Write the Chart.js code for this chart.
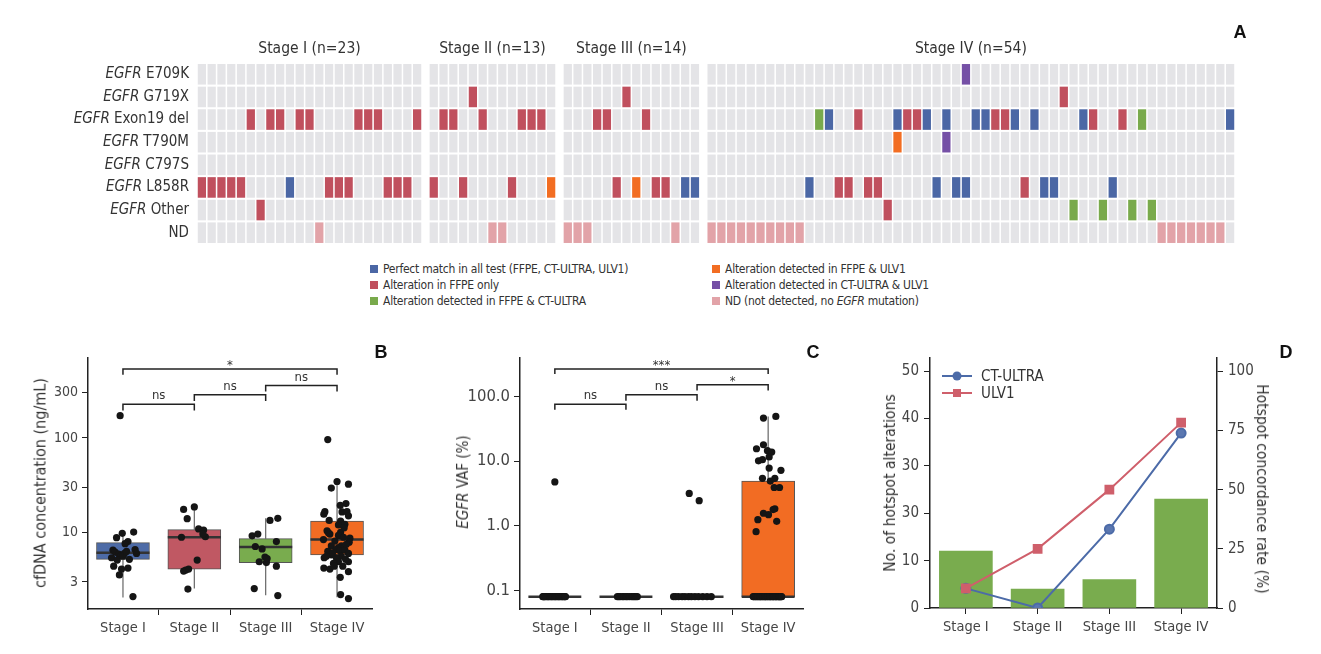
<!DOCTYPE html>
<html>
<head>
<meta charset="utf-8">
<script src="https://cdn.jsdelivr.net/npm/chart.js@4.4.1/dist/chart.umd.min.js"></script>
<style>
    body { margin: 0; width: 1321px; height: 654px; overflow: hidden; position: relative; background: #fff;
           font-family: "Liberation Sans Narrow", "DejaVu Sans Condensed", sans-serif; color: #333; }
    canvas { position: absolute; }
    .panel { position: absolute; transform: translate(-50%, -50%); font: bold 18px "Liberation Sans", Arial, sans-serif; color: #111; }
    .leg { position: absolute; font-size: 12px; letter-spacing: -0.25px; white-space: nowrap; transform: translateY(-50%); }
    .leg .sq { display: inline-block; width: 8px; height: 8px; margin-right: 5px; vertical-align: 0; }
    .ytitle { position: absolute; white-space: nowrap; font-size: 15.5px; color: #333; transform: translate(-50%, -50%) rotate(-90deg); }
    .ytitle.right { transform: translate(-50%, -50%) rotate(90deg); }
</style>
</head>
<body>
<canvas id="heat" width="1321" height="256" style="left:0;top:0"></canvas>
<canvas id="cfdna" width="430" height="324" style="left:0;top:330px"></canvas>
<canvas id="vaf" width="400" height="324" style="left:440px;top:330px"></canvas>
<canvas id="hotspot" width="451" height="324" style="left:870px;top:330px"></canvas>

<div class="panel" style="left:1240px;top:32px">A</div>
<div class="panel" style="left:381px;top:352px">B</div>
<div class="panel" style="left:813px;top:352px">C</div>
<div class="panel" style="left:1286px;top:352px">D</div>

<div class="ytitle" style="left:40px;top:483px;font-size:16px">cfDNA concentration (ng/mL)</div>
<div class="ytitle" style="left:463px;top:482px;font-size:15px"><i>EGFR</i> VAF (%)</div>
<div class="ytitle" style="left:890px;top:483px">No. of hotspot alterations</div>
<div class="ytitle right" style="left:1262px;top:489px">Hotspot concordance rate (%)</div>

<div id="legend"></div>

<script>
const FONT = '"Liberation Sans Narrow", "DejaVu Sans Condensed", sans-serif';
Chart.defaults.font.family = FONT;
Chart.defaults.color = '#444';
Chart.defaults.animation = false;
Chart.defaults.plugins.legend.display = false;
Chart.defaults.plugins.tooltip.enabled = false;

/** DATA */

const stageLabels = ['Stage I', 'Stage II', 'Stage III', 'Stage IV'];
const stageTitles = ['Stage I (n=23)', 'Stage II (n=13)', 'Stage III (n=14)', 'Stage IV (n=54)'];
const stageSizes = [23, 13, 14, 54];

// heatmap rows, one string of marked patients per stage
// b perfect match, r FFPE only, g FFPE & CT-ULTRA, o FFPE & ULV1, p CT-ULTRA & ULV1, n not detected
const mutationRows = ['E709K', 'G719X', 'Exon19 del', 'T790M', 'C797S', 'L858R', 'Other', 'ND'];
const rowE709K = ['', '', '', 'p26'];
const rowG719X = ['', 'r4', 'r6', 'r36'];
const rowExon19 = ['r5 r7 r8 r10 r11 r16 r17 r18 r22', 'r1 r2 r5 r9 r10 r11', 'r3 r4 r8',
    'g11 b12 r15 b19 r20 r21 b22 b24 b27 b28 r29 r30 b31 b33 b38 r39 r42 g44 b53'];
const rowT790M = ['', '', '', 'o19 p24'];
const rowC797S = ['', '', '', ''];
const rowL858R = ['r0 r1 r2 r3 r4 b9 r13 r14 r15 r19 r20 r21', 'r0 r3 r8 o12', 'r5 o7 r9 r10 b12 b13',
    'b10 r13 r14 r16 r17 b23 b25 b26 r32 b34 b35 b41'];
const rowOther = ['r6', '', '', 'r18 g37 g40 g43 g45'];
const rowND = ['n12', 'n6 n7', 'n0 n1 n2 n11', 'n0 n1 n2 n3 n4 n5 n6 n7 n8 n9 n46 n47 n48 n49 n50 n51 n52'];
const heatRows = [rowE709K, rowG719X, rowExon19, rowT790M, rowC797S, rowL858R, rowOther, rowND];

const cellColors = { '': '#E4E4E7', b: '#4B67A5', r: '#C0505E', g: '#79AA4C', o: '#F26D22', p: '#7550A6', n: '#E2A3A8' };
const legendItems = [
    ['b', 'Perfect match in all test (FFPE, CT-ULTRA, ULV1)'],
    ['r', 'Alteration in FFPE only'],
    ['g', 'Alteration detected in FFPE &amp; CT-ULTRA'],
    ['o', 'Alteration detected in FFPE &amp; ULV1'],
    ['p', 'Alteration detected in CT-ULTRA &amp; ULV1'],
    ['n', 'ND (not detected, no <i>EGFR</i> mutation)']
];

// B: cfDNA concentration (ng/mL)
const cfdnaTicks = [3, 10, 30, 100, 300];
const cfdnaStats = [ // q1, median, q3, lower whisker, upper whisker
    [5.2, 6.1, 7.8, 2.05, 10.1],
    [4.1, 8.9, 10.7, 2.56, 18.6],
    [4.8, 7.0, 8.6, 2.16, 14.1],
    [5.77, 8.4, 13.2, 2.06, 34.6]
];
const cfdnaStageI = [172, 8.8, 9.8, 10.1, 8.0, 7.6, 6.5, 6.2, 5.9, 5.7, 6.0, 6.6, 6.0, 5.4, 5.2, 5.1, 5.6, 4.4, 4.1, 4.2, 3.55, 2.1, 6.3];
const cfdnaJitterI = [-0.04, -0.09, -0.01, 0.15, 0.07, 0.03, -0.14, -0.11, -0.06, -0.03, 0.02, 0.17, 0.19, -0.16, 0.09, -0.08, 0.0, -0.13, -0.02, 0.07, -0.05, 0.14, 0.05];
const cfdnaStageII = [17.5, 18.6, 14.0, 8.9, 10.9, 10.6, 9.0, 9.6, 5.1, 3.9, 4.0, 4.1, 2.52];
const cfdnaJitterII = [-0.15, 0.0, -0.10, -0.18, 0.06, 0.13, 0.155, 0.12, 0.04, -0.15, -0.12, -0.08, -0.09];
const cfdnaStageIII = [13.4, 14.1, 9.2, 9.6, 8.0, 7.1, 6.7, 5.5, 4.9, 4.8, 4.4, 2.55, 2.15, 5.3];
const cfdnaJitterIII = [0.06, 0.17, -0.19, -0.11, 0.15, -0.145, -0.05, -0.01, -0.09, 0.01, 0.15, -0.16, 0.17, 0.02];
const cfdnaStageIV = [96, 34.6, 29.5, 32.4, 19.3, 20.2, 16.6, 15.6, 16.5, 16.6, 15.0, 13.4, 13.2, 12.2, 12.0, 10.4, 9.6, 10.0,
    9.3, 8.7, 8.4, 8.1, 7.9, 7.2, 7.2, 6.9, 6.8, 6.6, 6.4, 6.5, 6.0, 6.3, 5.8, 5.6, 5.4, 5.4, 5.6, 4.9, 4.9, 4.7, 4.2, 4.1,
    4.4, 4.4, 3.85, 3.35, 2.2, 2.0, 11.2, 9.9, 7.5, 6.1, 5.2, 8.9];
const cfdnaJitterIV = [-0.13, 0.0, -0.08, 0.16, 0.045, 0.125, -0.17, -0.185, 0.07, 0.14, 0.16, -0.11, 0.05, 0.11, 0.02, -0.14,
    -0.10, 0.05, 0.02, 0.18, -0.19, -0.03, 0.17, -0.08, 0.06, 0.02, 0.09, -0.01, 0.04, 0.11, 0.16, -0.13, -0.08, 0.06, -0.01,
    -0.18, -0.15, 0.16, 0.02, -0.05, -0.185, -0.10, -0.04, 0.08, 0.16, 0.045, 0.05, 0.16, 0.10, -0.12, 0.13, -0.06, 0.12, 0.09];
const cfdnaBrackets = [[0, 1, 227, 195, 'ns'], [1, 2, 286, 246, 'ns'], [2, 3, 358, 309, 'ns'], [0, 3, 534, 465, '*']];

// C: EGFR VAF (%), not detected drawn at the 0.08 floor
const vafTicks = [0.1, 1, 10, 100];
const vafTickLabels = ['0.1', '1.0', '10.0', '100.0'];
const vafStats = [
    [0.08, 0.08, 0.08, 0.08, 0.08],
    [0.08, 0.08, 0.08, 0.08, 0.08],
    [0.08, 0.08, 0.08, 0.08, 0.08],
    [0.08, 0.08, 4.92, 0.08, 49]
];
const vafStageI = [4.75, 0.08, 0.08, 0.08, 0.08, 0.08, 0.08, 0.08, 0.08, 0.08, 0.08, 0.08, 0.08, 0.08, 0.08, 0.08, 0.08,
    0.08, 0.08, 0.08, 0.08, 0.08, 0.08];
const vafJitterI = [0.0, -0.17, -0.15, -0.14, -0.12, -0.1, -0.09, -0.07, -0.05, -0.04, -0.02, 0.0, 0.01, 0.03, 0.05, 0.06,
    0.08, 0.1, 0.11, 0.13, 0.14, 0.15, -0.16];
const vafStageII = [0.08, 0.08, 0.08, 0.08, 0.08, 0.08, 0.08, 0.08, 0.08, 0.08, 0.08, 0.08, 0.08];
const vafJitterII = [-0.12, -0.1, -0.08, -0.05, -0.03, 0.0, 0.02, 0.05, 0.08, 0.1, 0.12, 0.14, 0.16];
const vafStageIII = [3.16, 2.44, 0.08, 0.08, 0.08, 0.08, 0.08, 0.08, 0.08, 0.08, 0.08, 0.08, 0.08, 0.08];
const vafJitterIII = [-0.11, 0.03, -0.33, -0.3, -0.26, -0.21, -0.17, -0.12, -0.08, -0.03, 0.02, 0.08, 0.14, 0.2];
const vafStageIV = [46.3, 49, 15.5, 17.9, 14.5, 13.8, 11.6, 10.1, 10.5, 7.2, 7.8, 5.4, 5.4, 4.9, 3.9, 3.9, 1.83, 1.78, 1.48,
    1.56, 1.24, 1.17, 0.81,
    0.08, 0.08, 0.08, 0.08, 0.08, 0.08, 0.08, 0.08, 0.08, 0.08, 0.08, 0.08, 0.08, 0.08, 0.08, 0.08, 0.08, 0.08, 0.08, 0.08,
    0.08, 0.08, 0.08, 0.08, 0.08, 0.08, 0.08, 0.08, 0.08, 0.08, 0.08];
const vafJitterIV = [-0.066, 0.108, -0.164, -0.066, -0.01, 0.05, 0.014, -0.136, -0.08, 0.18, 0.014, -0.08, 0.094, 0.03, 0.085,
    0.16, 0.094, 0.07, 0.005, -0.066, -0.145, 0.12, -0.17,
    -0.21, -0.2, -0.18, -0.17, -0.15, -0.14, -0.12, -0.11, -0.1, -0.08, -0.07, -0.05, -0.04, -0.03, -0.01, 0.0, 0.02, 0.03,
    0.04, 0.06, 0.07, 0.08, 0.1, 0.11, 0.12, 0.14, 0.15, 0.16, 0.17, 0.18, 0.19];
const vafBrackets = [[0, 1, 76, 62, 'ns'], [1, 2, 106, 86, 'ns'], [2, 3, 152, 124, '*'], [0, 3, 265, 222, '***']];

// D: hotspot alterations and concordance
const hotspotCounts = [12, 4, 6, 23];
const countTicks = [0, 10, 20, 30, 40, 50];
const countTickLabels = ['0', '10', '30', '30', '40', '50'];
const rateTicks = [0, 25, 50, 75, 100];
const ctUltraRate = [8.3, 0, 33.3, 73.9];
const ulv1Rate = [8.3, 25, 50, 78.3];

const boxColors = ['#4D6BA7', '#C05863', '#79AC4E', '#F26C23'];

/** A: HEATMAP */

const stageGap = 0.7;
const stageStart = [];
let pos = 0;
stageSizes.forEach(n => { stageStart.push(pos); pos += n + stageGap; });

const heatDatasets = heatRows.map((row, r) => {
    const data = [];
    const colors = [];
    stageSizes.forEach((n, s) => {
        const marks = {};
        row[s].split(' ').filter(Boolean).forEach(m => { marks[+m.slice(1)] = m[0]; });
        for (let k = 0; k < n; k++) {
            data.push({ x: stageStart[s] + k, y: [r + 0.06, r + 0.94] });
            colors.push(cellColors[marks[k] || '']);
        }
    });
    return { data, backgroundColor: colors, barThickness: 7.6, grouped: false };
});

const heatText = {
    id: 'heatText',
    afterDraw(chart) {
        const { ctx, chartArea, scales: { x, y } } = chart;
        ctx.save();
        ctx.fillStyle = '#333';
        ctx.textBaseline = 'middle';
        ctx.textAlign = 'right';
        mutationRows.forEach((name, r) => {
            const py = y.getPixelForValue(r + 0.5);
            let px = chartArea.left - 8;
            const rest = name === 'ND' ? 'ND' : ' ' + name;
            ctx.font = `15px ${FONT}`;
            ctx.fillText(rest, px, py);
            if (name !== 'ND') {
                px -= ctx.measureText(rest).width;
                ctx.font = `italic 15px ${FONT}`;
                ctx.fillText('EGFR', px, py);
            }
        });
        ctx.textAlign = 'center';
        ctx.font = `15.5px ${FONT}`;
        stageTitles.forEach((t, s) => {
            const a = x.getPixelForValue(stageStart[s]);
            const b = x.getPixelForValue(stageStart[s] + stageSizes[s] - 1);
            ctx.fillText(t, (a + b) / 2, 49);
        });
        ctx.restore();
    }
};

new Chart(document.getElementById('heat'), {
    type: 'bar',
    data: { datasets: heatDatasets },
    options: {
        responsive: false,
        layout: { padding: { left: 197, right: 86, top: 63, bottom: 12 } },
        scales: {
            x: { type: 'linear', display: false, offset: false, min: -0.5, max: pos - stageGap - 0.5 },
            y: { type: 'linear', display: false, min: 0, max: 8, reverse: true }
        }
    },
    plugins: [heatText]
});

const legendRoot = document.getElementById('legend');
legendItems.forEach(([code, text], i) => {
    const div = document.createElement('div');
    div.className = 'leg';
    div.style.left = (i < 3 ? 370 : 712) + 'px';
    div.style.top = (269 + (i % 3) * 16) + 'px';
    div.innerHTML = `<span class="sq" style="background:${cellColors[code]}"></span>${text}`;
    legendRoot.appendChild(div);
});

/** B, C: BOX PLOTS */

const boxHalf = 0.372;

const boxDatasets = (stats, points, jitters, brackets) => {
    const boxes = [];
    const boxFill = [];
    const whiskers = [];
    const medians = [];
    stats.forEach(([q1, med, q3, lo, hi], i) => {
        if (q3 > q1) {
            boxes.push({ x: i, y: [q1, q3] });
            boxFill.push(boxColors[i]);
        }
        if (lo < q1) whiskers.push({ x: i, y: lo }, { x: i, y: q1 }, { x: i, y: null });
        if (hi > q3) whiskers.push({ x: i, y: q3 }, { x: i, y: hi }, { x: i, y: null });
        medians.push({ x: i - boxHalf, y: med }, { x: i + boxHalf, y: med }, { x: i, y: null });
    });
    const dots = [];
    points.forEach((vals, i) => vals.forEach((v, k) => dots.push({ x: i + jitters[i][k], y: v })));
    const lines = [];
    brackets.forEach(([a, b, top, leg]) => {
        lines.push({ x: a, y: leg }, { x: a, y: top }, { x: b, y: top }, { x: b, y: leg }, { x: b, y: null });
    });
    return [
        { data: dots, pointRadius: 3.6, pointBackgroundColor: '#151515', pointBorderWidth: 0, order: 0 },
        { data: lines, showLine: true, borderColor: '#222', borderWidth: 1.5, pointRadius: 0, order: 1 },
        { data: medians, showLine: true, borderColor: '#333', borderWidth: 2.5, pointRadius: 0, order: 2 },
        { type: 'bar', data: boxes, backgroundColor: boxFill, borderColor: '#555', borderWidth: 1,
          borderSkipped: false, barThickness: 53, order: 3 },
        { data: whiskers, showLine: true, borderColor: '#666', borderWidth: 1.2, pointRadius: 0, order: 4 }
    ];
};

const bracketText = (brackets) => ({
    id: 'bracketText',
    afterDraw(chart) {
        const { ctx, scales: { x, y } } = chart;
        ctx.save();
        ctx.fillStyle = '#333';
        ctx.textAlign = 'center';
        ctx.textBaseline = 'alphabetic';
        ctx.font = `13px ${FONT}`;
        brackets.forEach(([a, b, top, leg, label]) => {
            const px = (x.getPixelForValue(a) + x.getPixelForValue(b)) / 2;
            const py = y.getPixelForValue(top) + (label.includes('*') ? 0 : -5);
            ctx.fillText(label, px, py);
        });
        ctx.restore();
    }
});

const axisStyle = {
    grid: { drawOnChartArea: false, tickLength: 6, color: '#222' },
    border: { color: '#222', width: 1.5 }
};

const boxOptions = (yMin, yMax, ticks, tickLabels, yWidth, rightPad, ySize) => ({
    responsive: false,
    layout: { padding: { left: 0, right: rightPad, top: 28, bottom: 0 } },
    scales: {
        x: {
            type: 'linear', offset: false, min: -0.49, max: 3.49, ...axisStyle,
            afterBuildTicks: s => { s.ticks = stageLabels.map((_, i) => ({ value: i })); },
            afterFit: s => { s.height = 45; },
            ticks: { callback: v => stageLabels[v], font: { size: 14.5 }, color: '#444', padding: 5 }
        },
        y: {
            type: 'logarithmic', min: yMin, max: yMax, ...axisStyle,
            afterBuildTicks: s => { s.ticks = ticks.map(v => ({ value: v })); },
            afterFit: s => { s.width = yWidth; },
            ticks: { callback: (v, i) => tickLabels[i], font: { size: ySize }, color: '#444', padding: 4 }
        }
    }
});

new Chart(document.getElementById('cfdna'), {
    type: 'scatter',
    data: {
        datasets: boxDatasets(cfdnaStats,
            [cfdnaStageI, cfdnaStageII, cfdnaStageIII, cfdnaStageIV],
            [cfdnaJitterI, cfdnaJitterII, cfdnaJitterIII, cfdnaJitterIV], cfdnaBrackets)
    },
    options: boxOptions(1.55, 700, cfdnaTicks, cfdnaTicks.map(String), 88, 58, 14),
    plugins: [bracketText(cfdnaBrackets)]
});

new Chart(document.getElementById('vaf'), {
    type: 'scatter',
    data: {
        datasets: boxDatasets(vafStats,
            [vafStageI, vafStageII, vafStageIII, vafStageIV],
            [vafJitterI, vafJitterII, vafJitterIII, vafJitterIV], vafBrackets)
    },
    options: boxOptions(0.0515, 393, vafTicks, vafTickLabels, 80, 37, 16.5),
    plugins: [bracketText(vafBrackets)]
});

/** D: BARS AND LINES */

const rateSeries = [
    { name: 'CT-ULTRA', data: ctUltraRate, color: '#4C6BA8', style: 'circle' },
    { name: 'ULV1', data: ulv1Rate, color: '#CF5F6B', style: 'rect' }
];

const rateLegend = {
    id: 'rateLegend',
    afterDraw(chart) {
        const { ctx, chartArea } = chart;
        ctx.save();
        rateSeries.forEach((s, i) => {
            const y = chartArea.top + 18 + i * 17;
            const x0 = chartArea.left + 12;
            const x1 = x0 + 30;
            ctx.strokeStyle = s.color;
            ctx.fillStyle = s.color;
            ctx.lineWidth = 2;
            ctx.beginPath();
            ctx.moveTo(x0, y);
            ctx.lineTo(x1, y);
            ctx.stroke();
            if (s.style === 'circle') {
                ctx.beginPath();
                ctx.arc((x0 + x1) / 2, y, 4.5, 0, Math.PI * 2);
                ctx.fill();
            } else {
                ctx.fillRect((x0 + x1) / 2 - 4, y - 4, 8, 8);
            }
            ctx.fillStyle = '#333';
            ctx.font = `15px ${FONT}`;
            ctx.textAlign = 'left';
            ctx.textBaseline = 'middle';
            ctx.fillText(s.name, x1 + 9, y + 1);
        });
        ctx.restore();
    }
};

new Chart(document.getElementById('hotspot'), {
    type: 'bar',
    data: {
        labels: stageLabels,
        datasets: [
            { type: 'line', data: ulv1Rate, yAxisID: 'y1', borderColor: rateSeries[1].color, backgroundColor: rateSeries[1].color,
              pointStyle: 'rect', pointRadius: 5.5, borderWidth: 2, order: 0 },
            { type: 'line', data: ctUltraRate, yAxisID: 'y1', borderColor: rateSeries[0].color, backgroundColor: '#5B77B0',
              pointStyle: 'circle', pointRadius: 4.5, borderWidth: 2, order: 1 },
            { data: hotspotCounts, backgroundColor: '#79AC4E', barThickness: 53, order: 2 }
        ]
    },
    options: {
        responsive: false,
        layout: { padding: { left: 0, right: 0, top: 28, bottom: 0 } },
        scales: {
            x: {
                ...axisStyle, grid: { ...axisStyle.grid, offset: false },
                afterFit: s => { s.height = 46; },
                ticks: { font: { size: 14.5 }, color: '#444', padding: 5 }
            },
            y: {
                position: 'left', min: 0, max: 52.8, ...axisStyle,
                afterBuildTicks: s => { s.ticks = countTicks.map(v => ({ value: v })); },
                afterFit: s => { s.width = 60; },
                ticks: { callback: (v, i) => countTickLabels[i], font: { size: 15 }, color: '#444', padding: 5 }
            },
            y1: {
                position: 'right', min: 0, max: 105.6, ...axisStyle,
                afterBuildTicks: s => { s.ticks = rateTicks.map(v => ({ value: v })); },
                afterFit: s => { s.width = 104; },
                ticks: { font: { size: 15 }, color: '#444', padding: 5 }
            }
        }
    },
    plugins: [rateLegend]
});
</script>
</body>
</html>
